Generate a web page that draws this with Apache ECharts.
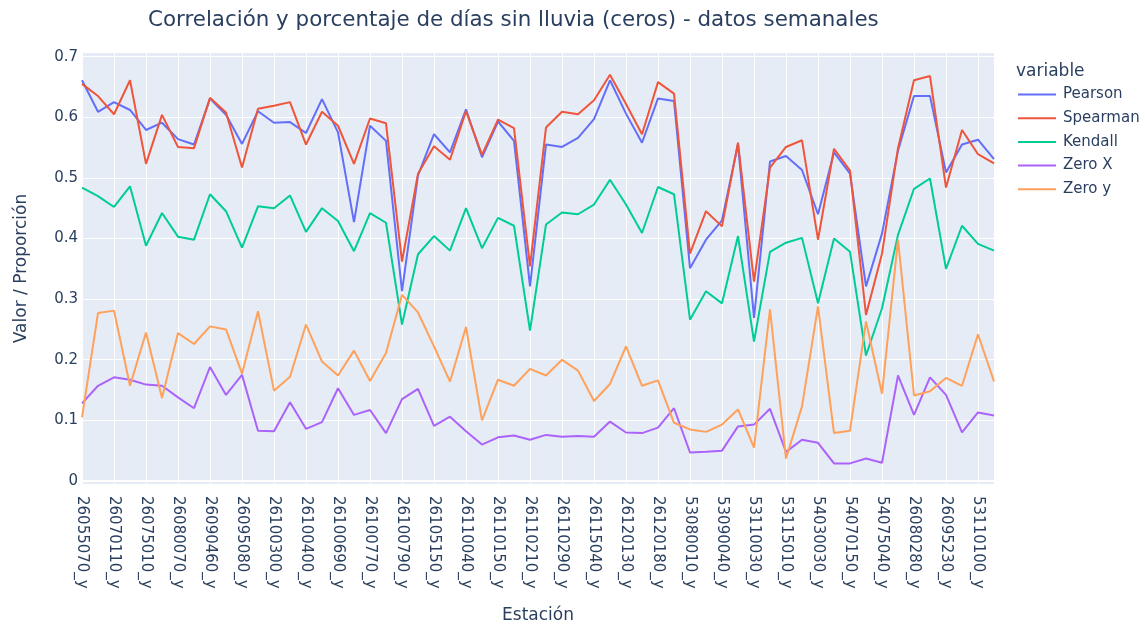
<!DOCTYPE html>
<html lang="es">
<head>
<meta charset="UTF-8">
<title>Correlación y ceros</title>
<style type="text/css">
	body,html{
		width: 100%;
		height: 100%;
		margin: 0;
		padding: 0;
		background: #fff;
	}
	#chart{
		width: 1145px;
		height: 625px;
	}
</style>
</head>
<body>
<div id="chart"></div>
<script type="text/javascript" src="https://cdn.jsdelivr.net/npm/echarts@6/dist/echarts.min.js"></script>
<script type="text/javascript">
// estaciones (solo las pares se ven en el eje)
var estaciones = [
	'26055070_y','26057040_y','26070110_y','26070130_y','26075010_y','26075040_y','26080070_y','26080160_y',
	'26090460_y','26095010_y','26095080_y','26100100_y','26100300_y','26100350_y','26100400_y','26100630_y',
	'26100690_y','26100750_y','26100770_y','26100780_y','26100790_y','26105100_y','26105150_y','26105200_y',
	'26110040_y','26110100_y','26110150_y','26110200_y','26110210_y','26110250_y','26110290_y','26115010_y',
	'26115040_y','26120100_y','26120130_y','26120160_y','26120180_y','53070010_y','53080010_y','53085010_y',
	'53090040_y','53100010_y','53110030_y','53110070_y','53115010_y','54020010_y','54030030_y','54070010_y',
	'54070150_y','54075010_y','54075040_y','26080040_y','26080280_y','26095190_y','26095230_y','53110090_y',
	'53110100_y','54040010_y'
];

var pearson = [
	0.661,0.609,0.625,0.612,0.579,0.591,0.564,0.555,0.631,0.604,0.556,0.610,0.591,0.592,0.574,0.630,
	0.575,0.427,0.586,0.561,0.313,0.504,0.572,0.542,0.613,0.534,0.593,0.561,0.321,0.555,0.551,0.566,
	0.597,0.661,0.606,0.558,0.631,0.627,0.351,0.398,0.430,0.556,0.269,0.527,0.536,0.513,0.440,0.542,
	0.507,0.321,0.408,0.545,0.635,0.635,0.509,0.555,0.563,0.531
];
var spearman = [
	0.655,0.635,0.605,0.661,0.523,0.604,0.551,0.549,0.632,0.608,0.517,0.614,0.619,0.625,0.555,0.609,
	0.586,0.523,0.598,0.590,0.362,0.507,0.552,0.530,0.610,0.538,0.596,0.582,0.354,0.583,0.609,0.605,
	0.628,0.670,0.622,0.572,0.658,0.639,0.375,0.445,0.420,0.558,0.329,0.517,0.551,0.562,0.398,0.548,
	0.512,0.274,0.375,0.549,0.661,0.668,0.484,0.579,0.539,0.524
];
var kendall = [
	0.484,0.470,0.452,0.486,0.388,0.442,0.403,0.398,0.473,0.445,0.385,0.453,0.450,0.471,0.411,0.450,
	0.429,0.379,0.442,0.426,0.258,0.374,0.404,0.380,0.450,0.384,0.434,0.421,0.248,0.423,0.443,0.440,
	0.456,0.497,0.456,0.409,0.485,0.473,0.266,0.313,0.293,0.404,0.230,0.378,0.393,0.401,0.293,0.400,
	0.378,0.207,0.285,0.406,0.482,0.499,0.350,0.421,0.391,0.380
];
var zeroX = [
	0.128,0.157,0.171,0.167,0.159,0.157,0.138,0.120,0.188,0.142,0.175,0.083,0.082,0.130,0.086,0.097,
	0.153,0.109,0.117,0.079,0.135,0.152,0.091,0.106,0.082,0.060,0.072,0.075,0.068,0.076,0.073,0.074,
	0.073,0.098,0.080,0.079,0.088,0.120,0.047,0.048,0.050,0.090,0.093,0.119,0.048,0.068,0.063,0.029,
	0.029,0.037,0.030,0.174,0.109,0.171,0.142,0.080,0.113,0.108
];
var zeroY = [
	0.105,0.277,0.281,0.157,0.245,0.137,0.244,0.226,0.255,0.250,0.177,0.280,0.149,0.172,0.258,0.197,
	0.174,0.215,0.165,0.211,0.307,0.278,0.222,0.164,0.254,0.100,0.167,0.157,0.185,0.174,0.200,0.182,
	0.132,0.160,0.222,0.157,0.166,0.096,0.085,0.081,0.093,0.118,0.055,0.283,0.037,0.123,0.288,0.079,
	0.083,0.263,0.144,0.398,0.141,0.148,0.170,0.157,0.242,0.164
];

var seriesNames = ['Pearson','Spearman','Kendall','Zero X','Zero y'];
var seriesData = [pearson, spearman, kendall, zeroX, zeroY];
var colors = ['#636efa','#EF553B','#00cc96','#ab63fa','#FFA15A'];

var txt = '#2a3f5f';
var chart = echarts.init(document.getElementById('chart'));

var series = seriesNames.map(function(n, i){
	var s = {
		name: n,
		type: 'line',
		data: seriesData[i],
		symbol: 'none',
		lineStyle: { width: 2, color: colors[i] },
		itemStyle: { color: colors[i] },
		z: 3
	};
	if (i == 0) {
		// linea del cero, blanca y mas gruesa como en plotly
		s.markLine = {
			silent: true,
			symbol: 'none',
			label: { show: false },
			lineStyle: { color: '#fff', width: 2, type: 'solid' },
			data: [{ yAxis: 0 }],
			z: 1
		};
	}
	return s;
});

var option = {
	animation: false,
	color: colors,
	textStyle: { fontFamily: 'DejaVu Sans, sans-serif' },
	title: [{
		text: 'Correlación y porcentaje de días sin lluvia (ceros) - datos semanales',
		left: 143,
		top: 5,
		textStyle: { color: txt, fontSize: 21.4, fontWeight: 'normal' }
	}, {
		text: 'variable',
		left: 1011,
		top: 58,
		textStyle: { color: txt, fontSize: 17, fontWeight: 'normal' }
	}],
	legend: {
		orient: 'vertical',
		left: 1013,
		top: 82,
		itemWidth: 38,
		itemHeight: 16,
		itemGap: 8.7,
		icon: 'path://M0,0H38V2H0Z',
		textStyle: { color: txt, fontSize: 15, padding: [0, 0, 0, 2] },
		data: seriesNames
	},
	grid: {
		left: 82,
		right: 151,
		top: 53,
		bottom: 141,
		outerBoundsMode: 'none',
		show: true,
		backgroundColor: '#E5ECF6',
		borderWidth: 0
	},
	xAxis: {
		type: 'category',
		data: estaciones,
		boundaryGap: false,
		name: 'Estación',
		nameLocation: 'middle',
		nameGap: 123,
		nameTextStyle: { color: txt, fontSize: 17 },
		axisLine: { show: false },
		axisTick: { show: false },
		axisLabel: { interval: 1, rotate: -90, color: txt, fontSize: 15, margin: 12 },
		splitLine: { show: true, interval: 1, lineStyle: { color: '#fff', width: 1 } }
	},
	yAxis: {
		type: 'value',
		min: -0.005,
		max: 0.706,
		splitNumber: 7,
		name: 'Valor / Proporción',
		nameLocation: 'middle',
		nameGap: 52,
		nameTextStyle: { color: txt, fontSize: 17 },
		axisLine: { show: false },
		axisTick: { show: false },
		axisLabel: {
			color: txt, fontSize: 15, margin: 4,
			showMinLabel: false, showMaxLabel: false,
			formatter: function(v){ return v === 0 ? '0' : v.toFixed(1); }
		},
		splitLine: { show: true, showMinLine: false, showMaxLine: false, lineStyle: { color: '#fff', width: 1 } }
	},
	series: series
};

chart.setOption(option);
window.addEventListener('resize', function(){ chart.resize(); });
</script>
</body>
</html>
